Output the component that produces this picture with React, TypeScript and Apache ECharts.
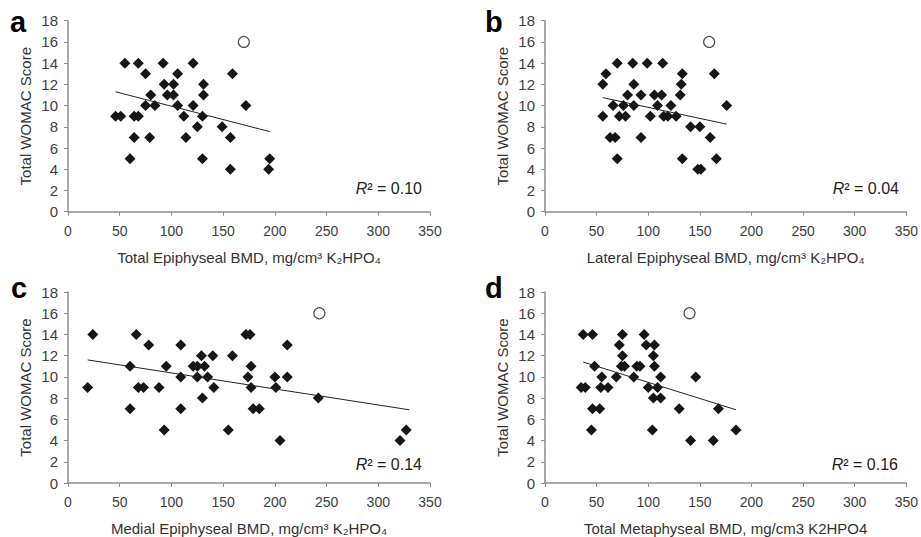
import React, { useEffect, useRef } from "react";
import * as echarts from "echarts";

const FONT = "'Liberation Sans', Arial, Helvetica, sans-serif";

// Panel a: Total Epiphyseal BMD vs Total WOMAC Score
const panelAPoints: number[][] = [
  [55, 14], [68, 14], [92, 14], [121, 14],
  [75, 13], [106, 13], [159, 13],
  [93, 12], [102, 12], [131, 12],
  [80, 11], [96, 11], [102, 11], [131, 11],
  [75, 10], [84, 10], [106, 10], [121, 10], [172, 10],
  [46, 9], [51, 9], [64, 9], [68, 9], [112, 9], [130, 9],
  [125, 8], [149, 8],
  [64, 7], [79, 7], [114, 7], [157, 7],
  [60, 5], [130, 5], [195, 5],
  [157, 4], [194, 4],
];
const panelAOutlier: number[][] = [[170, 16]];
const panelATrend: number[][] = [[46, 11.3], [195, 7.55]];

// Panel b: Lateral Epiphyseal BMD
const panelBPoints: number[][] = [
  [70, 14], [85, 14], [99, 14], [114, 14],
  [59, 13], [133, 13], [164, 13],
  [56, 12], [86, 12], [132, 12],
  [80, 11], [93, 11], [106, 11], [113, 11], [131, 11],
  [66, 10], [76, 10], [86, 10], [109, 10], [122, 10], [176, 10],
  [56, 9], [72, 9], [78, 9], [102, 9], [115, 9], [119, 9], [127, 9],
  [141, 8], [150, 8],
  [63, 7], [68, 7], [93, 7], [160, 7],
  [70, 5], [133, 5], [166, 5],
  [148, 4], [151, 4],
];
const panelBOutlier: number[][] = [[159, 16]];
const panelBTrend: number[][] = [[56, 10.75], [176, 8.25]];

// Panel c: Medial Epiphyseal BMD
const panelCPoints: number[][] = [
  [24, 14], [66, 14], [172, 14], [176, 14],
  [78, 13], [109, 13], [212, 13],
  [129, 12], [140, 12], [159, 12],
  [60, 11], [95, 11], [121, 11], [125, 11], [132, 11], [177, 11],
  [109, 10], [125, 10], [135, 10], [174, 10], [200, 10], [212, 10],
  [19, 9], [68, 9], [73, 9], [88, 9], [141, 9], [177, 9], [201, 9],
  [130, 8], [242, 8],
  [60, 7], [109, 7], [179, 7], [185, 7],
  [93, 5], [155, 5], [327, 5],
  [205, 4], [321, 4],
];
const panelCOutlier: number[][] = [[243, 16]];
const panelCTrend: number[][] = [[19, 11.6], [330, 6.9]];

// Panel d: Total Metaphyseal BMD
const panelDPoints: number[][] = [
  [37, 14], [46, 14], [75, 14], [96, 14],
  [72, 13], [98, 13], [106, 13],
  [75, 12], [105, 12],
  [48, 11], [74, 11], [77, 11], [89, 11], [92, 11], [106, 11],
  [55, 10], [69, 10], [86, 10], [112, 10], [146, 10],
  [35, 9], [39, 9], [54, 9], [61, 9], [100, 9], [109, 9],
  [105, 8], [112, 8],
  [46, 7], [53, 7], [130, 7], [168, 7],
  [45, 5], [104, 5], [185, 5],
  [141, 4], [163, 4],
];
const panelDOutlier: number[][] = [[140, 16]];
const panelDTrend: number[][] = [[37, 11.4], [185, 6.9]];

const panelLetters = ["a", "b", "c", "d"];
const xAxisNames = [
  "Total Epiphyseal BMD, mg/cm³ K₂HPO₄",
  "Lateral Epiphyseal BMD, mg/cm³ K₂HPO₄",
  "Medial Epiphyseal BMD, mg/cm³ K₂HPO₄",
  "Total Metaphyseal BMD, mg/cm3 K2HPO4",
];
const yAxisName = "Total WOMAC Score";
const rSquared = ["0.10", "0.04", "0.14", "0.16"];
const xMin = 0, xMax = 350, xInterval = 50;
const yMin = 0, yMax = 18, yInterval = 2;

const points = [panelAPoints, panelBPoints, panelCPoints, panelDPoints];
const outliers = [panelAOutlier, panelBOutlier, panelCOutlier, panelDOutlier];
const trends = [panelATrend, panelBTrend, panelCTrend, panelDTrend];

// layout
const grids = [
  { left: 68, top: 20.7, width: 362, height: 191 },
  { left: 545, top: 20.7, width: 362, height: 191 },
  { left: 68, top: 292, width: 362, height: 191 },
  { left: 545, top: 292, width: 362, height: 191 },
];
const letterPos = [[10, 22], [485, 22], [11, 288], [485, 288]];
const rPos = [[422, 188], [899, 188], [422, 464], [898, 464]];

export default function App() {
  const ref = useRef<HTMLDivElement>(null);
  useEffect(() => {
    document.body.style.margin = "0";
    if (!ref.current) return;
    const chart = echarts.init(ref.current, undefined, { renderer: "svg" });
    const axisColor = "#8c8c8c";
    const labelColor = "#404040";
    const xAxis = grids.map((_, i) => ({
      gridIndex: i,
      type: "value",
      min: xMin,
      max: xMax,
      interval: xInterval,
      name: xAxisNames[i],
      nameLocation: "middle",
      nameGap: 38,
      nameTextStyle: { fontSize: 15, color: "#333", fontFamily: FONT },
      axisLine: { show: true, onZero: false, lineStyle: { color: axisColor, width: 1.5 } },
      axisTick: { show: true, length: 4, lineStyle: { color: axisColor, width: 1 } },
      axisLabel: { fontSize: 14, color: labelColor, margin: 12, fontFamily: FONT },
      splitLine: { show: false },
    }));
    const yAxis = grids.map((_, i) => ({
      gridIndex: i,
      type: "value",
      min: yMin,
      max: yMax,
      interval: yInterval,
      name: yAxisName,
      nameLocation: "middle",
      nameGap: 35,
      nameRotate: 90,
      nameTextStyle: { fontSize: 15, color: "#333", fontFamily: FONT },
      axisLine: { show: true, lineStyle: { color: axisColor, width: 1.5 } },
      axisTick: { show: true, length: 4, lineStyle: { color: axisColor, width: 1 } },
      axisLabel: { fontSize: 15, color: labelColor, margin: 10, fontFamily: FONT },
      splitLine: { show: false },
    }));
    const series: any[] = [];
    grids.forEach((_, i) => {
      series.push({
        type: "scatter",
        xAxisIndex: i,
        yAxisIndex: i,
        symbol: "diamond",
        symbolSize: 11,
        itemStyle: { color: "#161616", opacity: 1 },
        data: points[i],
        z: 3,
      });
      series.push({
        type: "line",
        xAxisIndex: i,
        yAxisIndex: i,
        symbol: "none",
        lineStyle: { color: "#222", width: 1 },
        data: trends[i],
        z: 4,
      });
      series.push({
        type: "scatter",
        xAxisIndex: i,
        yAxisIndex: i,
        symbol: "circle",
        symbolSize: 11,
        itemStyle: { color: "#fff", borderColor: "#222", borderWidth: 1.2 },
        data: outliers[i],
        z: 5,
      });
    });
    const graphic: any[] = [];
    panelLetters.forEach((l, i) => {
      graphic.push({
        type: "text",
        x: letterPos[i][0],
        y: letterPos[i][1],
        style: {
          text: l,
          font: `bold 29px ${FONT}`,
          fill: "#000",
          align: "left",
          verticalAlign: "middle",
        },
      });
    });
    rSquared.forEach((r, i) => {
      graphic.push({
        type: "text",
        x: rPos[i][0],
        y: rPos[i][1],
        style: {
          text: `{i|R}{n|² = ${r}}`,
          align: "right",
          verticalAlign: "middle",
          fill: "#222",
          rich: {
            i: { fontStyle: "italic", fontSize: 16, fontFamily: FONT, fill: "#222" },
            n: { fontSize: 16, fontFamily: FONT, fill: "#222" },
          },
        },
      });
    });
    chart.setOption({
      animation: false,
      backgroundColor: "#fff",
      grid: grids,
      xAxis,
      yAxis,
      series,
      graphic,
    });
    return () => chart.dispose();
  }, []);
  return <div ref={ref} style={{ width: 921, height: 537 }} />;
}
